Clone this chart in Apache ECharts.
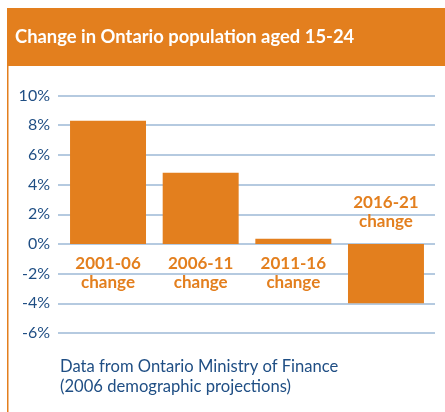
<!DOCTYPE html>
<html><head><meta charset="utf-8">
<script src="https://cdn.jsdelivr.net/npm/echarts@6/dist/echarts.min.js"></script>
<style>html,body{margin:0;padding:0;background:#fff}#c{width:445px;height:412px}</style>
</head><body><div id="c"></div>
<script>
const categories = ['2001-06\nchange', '2006-11\nchange', '2011-16\nchange', '2016-21\nchange'];
const values = [8.3, 4.8, 0.35, -4.0];
const yTicks = {min: -6, max: 10, interval: 2};
const titleText = 'Change in Ontario population aged 15-24';
const noteLines = ['Data from Ontario Ministry of Finance', '(2006 demographic projections)'];

const ORANGE = '#E37F1E';
const BLUE = '#1F4E84';
const FONT = 'Lato';
const chart = echarts.init(document.getElementById('c'), null, {renderer: 'canvas'});
chart.setOption({
  animation: false,
  graphic: [
    {type: 'rect', shape: {x: 7, y: 8, width: 438, height: 58}, style: {fill: ORANGE}, z: 0},
    {type: 'rect', shape: {x: 7, y: 66, width: 1.5, height: 346}, style: {fill: ORANGE}, z: 0},
    {type: 'text', left: 15, top: 28, style: {text: titleText, fill: '#fff', font: 'bold 18.4px ' + FONT}},
    {type: 'text', left: 60, top: 357, style: {text: noteLines.join('\n'), fill: BLUE, font: '16.6px ' + FONT, lineHeight: 20}}
  ],
  grid: [
    {left: 58, right: 10, top: 95.5, bottom: 79},
    {left: 61.7, right: 12.7, top: 95.5, bottom: 79}
  ],
  xAxis: [
    {type: 'category', gridIndex: 0, data: categories, show: false},
    {type: 'category', gridIndex: 1, data: categories, show: false}
  ],
  yAxis: [
    {type: 'value', gridIndex: 0, min: yTicks.min, max: yTicks.max, interval: yTicks.interval,
      axisLabel: {formatter: '{value}%', color: BLUE, fontSize: 16, fontFamily: FONT, margin: 8},
      splitLine: {lineStyle: {color: '#9DB9D6', width: 1.5}}},
    {type: 'value', gridIndex: 1, min: yTicks.min, max: yTicks.max, interval: yTicks.interval, show: false,
      splitLine: {show: false}}
  ],
  series: [{
    type: 'bar', xAxisIndex: 1, yAxisIndex: 1, barWidth: '82%',
    itemStyle: {color: ORANGE},
    data: values.map((v, i) => ({value: v, label: {show: true, position: v >= 0 ? 'bottom' : 'top', distance: v >= 0 ? 10 : 13,
      formatter: categories[i], color: ORANGE, fontWeight: 'bold', fontSize: 17, fontFamily: FONT, lineHeight: 19}}))
  }]
});
</script></body></html>
